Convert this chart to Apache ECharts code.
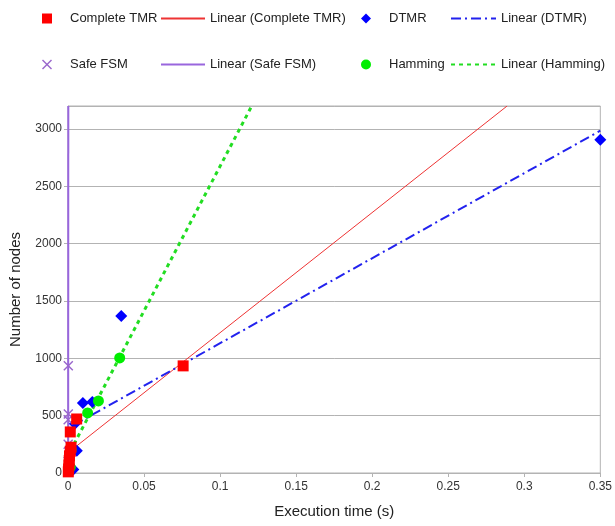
<!DOCTYPE html>
<html><head><meta charset="utf-8">
<script src="https://cdn.jsdelivr.net/npm/echarts@6/dist/echarts.min.js"></script>
<style>html,body{margin:0;padding:0;background:#fff}#c{width:615px;height:526px}</style>
</head><body><div id="c"></div>
<script>
// ---- data ----
const completeTMR = [[0.0002,10],[0.0004,35],[0.0006,70],[0.0008,110],[0.001,150],[0.0015,190],[0.002,225],[0.0015,358],[0.0057,471],[0.0757,934]];
const dtmr = [[0.0035,30],[0.0058,195],[0.0045,430],[0.0098,611],[0.016,620],[0.035,1370],[0.35,2905]];
const safeFSM = [[0.0001,20],[0.0001,100],[0.0001,250],[0.0001,465],[0.0002,515],[0.0002,935]];
const hamming = [[0.0015,50],[0.002,205],[0.0129,524],[0.020,628],[0.034,1003]];
const linCompleteTMR = [[0,176],[0.2887,3200]];
const linDTMR = [[0.0039,419],[0.35,2985]];
const linSafeFSM = [[0.0001,0],[0.0002,3200]];
const linHamming = [[0.0015,190],[0.1208,3200]];
const xTicks = {min:0, max:0.35, interval:0.05};
const yTicks = {min:0, max:3200, interval:500};

const crossPath = 'path://M0,1L1,0L5,4L9,0L10,1L6,5L10,9L9,10L5,6L1,10L0,9L4,5Z';
const font = 'Liberation Sans, Arial, sans-serif';
const txt = {fontFamily: font, fontSize: 13, color: '#222'};

function leg(name, left, top, w, icon){
  const o = {data:[{name:name}], left:left, top:top, itemWidth:w, itemHeight:10, textStyle:txt, padding:0, selectedMode:false};
  if (icon) o.data[0].icon = icon;
  else o.data[0].itemStyle = {opacity:0, borderWidth:0};
  return o;
}

const chart = echarts.init(document.getElementById('c'));
chart.setOption({
  animation:false,
  legend:[
    leg('Complete TMR', 42, 12, 36, 'path://M0,0L10,0L10,10L0,10Z'),
    leg('Linear (Complete TMR)', 160, 12, 44),
    leg('DTMR', 361, 12, 36, 'path://M5,0L10,5L5,10L0,5Z'),
    leg('Linear (DTMR)', 450, 12, 45),
    leg('Safe FSM', 42, 58, 36, crossPath),
    leg('Linear (Safe FSM)', 160, 58, 44),
    leg('Hamming', 361, 58, 36, 'circle'),
    leg('Linear (Hamming)', 450, 58, 45)
  ],
  grid:{left:67, right:11, top:106, bottom:53, show:true, borderColor:'#b3b3b3', borderWidth:1},
  xAxis:{type:'value', min:xTicks.min, max:xTicks.max, interval:xTicks.interval,
    name:'Execution time (s)', nameLocation:'middle', nameGap:31,
    nameTextStyle:{fontFamily:font, fontSize:15, color:'#222'},
    axisLine:{lineStyle:{color:'#b3b3b3'}},
    axisTick:{show:true, length:4, lineStyle:{color:'#b3b3b3'}},
    axisLabel:{fontFamily:font, fontSize:12, color:'#333', margin:8},
    splitLine:{show:false}},
  yAxis:{type:'value', min:yTicks.min, max:yTicks.max, interval:yTicks.interval,
    name:'Number of nodes', nameLocation:'middle', nameGap:45,
    nameTextStyle:{fontFamily:font, fontSize:15, color:'#222'},
    axisLine:{show:true, lineStyle:{color:'#b3b3b3'}},
    axisTick:{show:true, length:4, lineStyle:{color:'#b3b3b3'}},
    axisLabel:{fontFamily:font, fontSize:12, color:'#333', margin:6, showMaxLabel:false, formatter:function(v){return String(v);}},
    splitLine:{show:true, lineStyle:{color:'#b3b3b3'}}},
  series:[
    {name:'Complete TMR', type:'scatter', data:completeTMR, symbol:'rect', symbolSize:11, itemStyle:{color:'#ff0000', opacity:1}, z:5},
    {name:'Linear (Complete TMR)', type:'line', data:linCompleteTMR, symbol:'none', itemStyle:{color:'#ee3333'}, lineStyle:{color:'#ee3333', width:1}, z:3},
    {name:'DTMR', type:'scatter', data:dtmr, symbol:'diamond', symbolSize:12, itemStyle:{color:'#0000ff', opacity:1}, z:4},
    {name:'Linear (DTMR)', type:'line', data:linDTMR, symbol:'none', itemStyle:{color:'#2222ee'}, lineStyle:{color:'#2222ee', width:2, type:[10,4,2,4]}, z:3},
    {name:'Safe FSM', type:'scatter', data:safeFSM, symbol:crossPath, symbolSize:10, itemStyle:{color:'#9966cc', opacity:1}, z:4},
    {name:'Linear (Safe FSM)', type:'line', data:linSafeFSM, symbol:'none', itemStyle:{color:'#9966dd'}, lineStyle:{color:'#9966dd', width:2}, z:3},
    {name:'Hamming', type:'scatter', data:hamming, symbol:'circle', symbolSize:11, itemStyle:{color:'#00ee00', opacity:1}, z:4},
    {name:'Linear (Hamming)', type:'line', data:linHamming, symbol:'none', itemStyle:{color:'#22dd22'}, lineStyle:{color:'#22dd22', width:3, type:[4,4]}, z:3}
  ]
});
</script></body></html>
